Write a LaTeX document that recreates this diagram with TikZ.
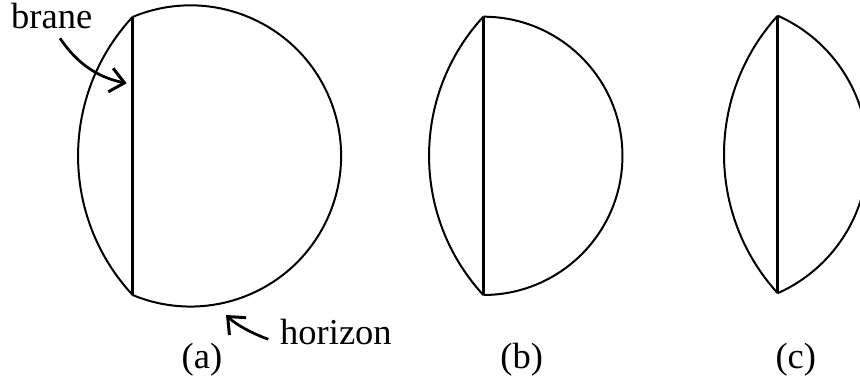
\documentclass[tikz,border=0pt]{standalone}
\usepackage{fontspec}
\setmainfont{Liberation Serif}
\usetikzlibrary{arrows.meta}
\tikzset{
  horizonline/.style={line width=2pt},
  braneline/.style={line width=3pt},
  pointer/.style={line width=2.7pt,-{Straight Barb[length=14pt,width=24pt,line width=3pt]}},
  lbl/.style={inner sep=0pt,font=\fontsize{36.5}{44}\selectfont},
}
\begin{document}
\begin{tikzpicture}[x=1pt,y=1pt]
\useasboundingbox (0,0) rectangle (860,377);
\clip (0,0) rectangle (860,377);
% (a)
\coordinate (at) at (132.5,360);
\coordinate (ab) at (132.5,82);
\draw[braneline] (at) -- (ab);
\draw[horizonline] (at) arc[start angle=112.65,end angle=-112.65,radius=150.6];
\draw[horizonline] (at) arc[start angle=137.2,end angle=222.8,radius=204.5];
% (b)
\coordinate (bt) at (483.3,360.3);
\coordinate (bb) at (483.3,82);
\draw[braneline] (bt) -- (bb);
\draw[horizonline] (bt) arc[start angle=90,end angle=-90,radius=139.15];
\draw[horizonline] (bt) arc[start angle=137.4,end angle=222.6,radius=205.6];
% (c)
\coordinate (ct) at (777.7,361.3);
\coordinate (cb) at (777.7,83.7);
\draw[braneline] (ct) -- (cb);
\draw[horizonline] (ct) arc[start angle=66,end angle=-66,radius=151.9];
\draw[horizonline] (ct) arc[start angle=137.7,end angle=222.3,radius=206.2];
% labels
\node[lbl,anchor=base west] (brane) at (11,348.5) {brane};
\node[lbl,anchor=base west] (horizon) at (280,32) {horizon};
\node[lbl,anchor=base] (la) at (202,8.5) {(a)};
\node[lbl,anchor=base] (lb) at (521.7,8.5) {(b)};
\node[lbl,anchor=base] (lc) at (795.8,8.5) {(c)};
% arrows
\coordinate (brtail) at (60,338.7);
\coordinate (brtip) at (126.7,293.7);
\coordinate (hotail) at (268.3,37.7);
\coordinate (hotip) at (226,62);
\draw[pointer] (brtail) .. controls (76.8,313.8) and (97.3,299.7) .. (brtip);
\draw[pointer] (hotail) .. controls (254.2,42.8) and (236.8,51.6) .. (hotip);
\end{tikzpicture}
\end{document}
